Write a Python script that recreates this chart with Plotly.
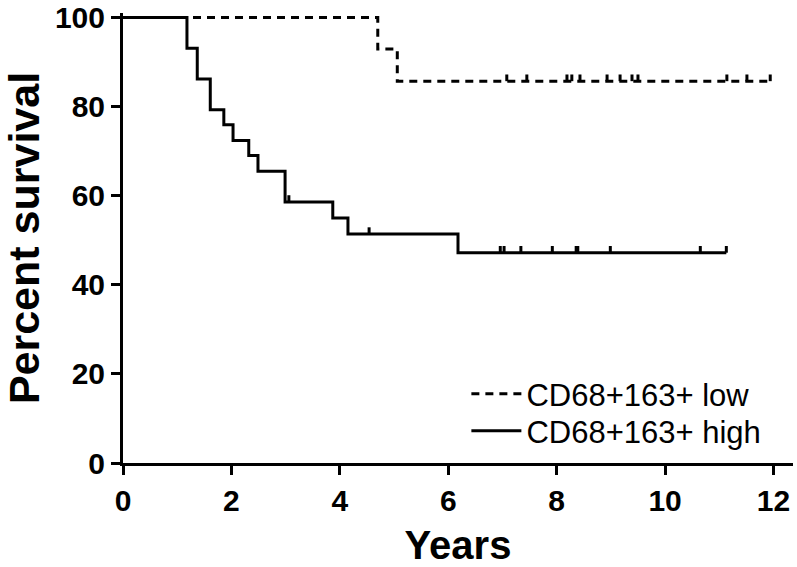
import numpy as np
import plotly.graph_objects as go

# ---- data ----
high_times = [0, 1.18, 1.37, 1.61, 1.86, 2.03, 2.32, 2.49, 2.99, 3.87, 4.15, 6.18, 11.13]
high_surv = [100, 93.1, 86.2, 79.3, 75.9, 72.4, 69.0, 65.5, 58.6, 55.0, 51.4, 47.2, 47.2]
high_censored = [3.06, 4.54, 6.96, 7.03, 7.34, 7.92, 8.36, 8.39, 8.99, 10.65, 11.13]

low_times = [0, 4.70, 5.06, 11.94]
low_surv = [100, 92.9, 85.7, 85.7]
low_censored = [7.08, 7.45, 8.19, 8.28, 8.43, 8.93, 9.17, 9.39, 9.50, 11.14, 11.51, 11.94]

x_ticks = [0, 2, 4, 6, 8, 10, 12]
y_ticks = [0, 20, 40, 60, 80, 100]

FONT = "Liberation Sans, Arial, sans-serif"


def surv_at(times, surv, t):
    idx = np.searchsorted(np.array(times), np.array(t), side="right") - 1
    return [surv[i] for i in idx]


fig = go.Figure()

series = [
    ("CD68+163+ low", low_times, low_surv, low_censored, "8px,6px", "legend"),
    ("CD68+163+ high", high_times, high_surv, high_censored, "solid", "legend2"),
]

for name, t, s, c, dash, leg in series:
    fig.add_trace(go.Scatter(
        x=t, y=s, mode="lines", name=name, legend=leg,
        line=dict(color="black", width=3, dash=dash, shape="hv"),
        cliponaxis=False,
    ))
    cy = surv_at(t, s, c)
    fig.add_trace(go.Scatter(
        x=c, y=cy, mode="markers", showlegend=False,
        marker=dict(size=1, color="rgba(0,0,0,0)"),
        error_y=dict(type="data", symmetric=False, array=[1.5] * len(c),
                     arrayminus=[0] * len(c), width=0, thickness=3, color="black"),
        cliponaxis=False, hoverinfo="skip",
    ))

leg_common = dict(
    xanchor="left", yanchor="middle",
    font=dict(size=31, family=FONT, color="black"),
    itemwidth=50, bgcolor="rgba(0,0,0,0)",
)

fig.update_layout(
    width=797, height=567,
    margin=dict(l=123, r=4, t=13, b=104),
    paper_bgcolor="white", plot_bgcolor="white",
    font=dict(family=FONT, color="black"),
    showlegend=True,
    legend=dict(x=0.5125, y=0.153, **leg_common),
    legend2=dict(x=0.5125, y=0.071, **leg_common),
    xaxis=dict(
        range=[0, 12.36], tickvals=x_ticks, ticktext=[f"<b>{v}</b>" for v in x_ticks],
        showgrid=False, zeroline=False, showline=True, linecolor="black", linewidth=3,
        ticks="outside", ticklen=9, tickwidth=3, tickcolor="black",
        tickfont=dict(size=30, family=FONT), ticklabelstandoff=0, automargin=False,
        ticklabeloverflow="allow",
        title=dict(text="<b>Years</b>", font=dict(size=40, family=FONT), standoff=16),
    ),
    yaxis=dict(
        range=[0, 101], tickvals=y_ticks, ticktext=[f"<b>{v}</b>" for v in y_ticks],
        showgrid=False, zeroline=False, showline=True, linecolor="black", linewidth=3,
        ticks="outside", ticklen=9, tickwidth=3, tickcolor="black",
        tickfont=dict(size=30, family=FONT), ticklabelstandoff=0, automargin=False,
        ticklabeloverflow="allow",
        title=dict(text="<b>Percent survival</b>", font=dict(size=43, family=FONT), standoff=16),
    ),
)

fig.write_html("out.html", config={"displayModeBar": False},
               post_script="document.body.style.margin='0';")
